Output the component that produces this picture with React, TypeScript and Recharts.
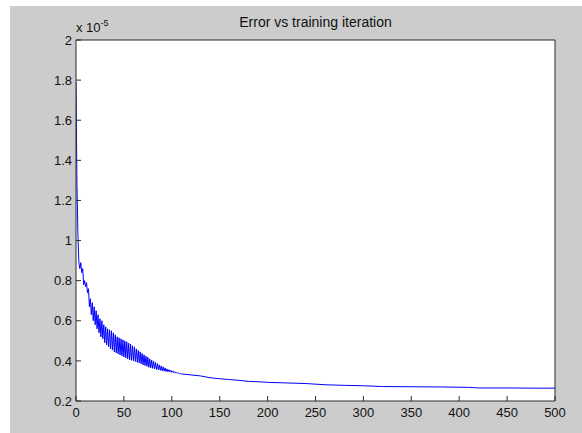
import React from 'react';
import { LineChart, Line, XAxis, YAxis, CartesianGrid } from 'recharts';

const chartTitle = 'Error vs training iteration';
const xTicks = [0, 50, 100, 150, 200, 250, 300, 350, 400, 450, 500];
const yTicks = [0.2, 0.4, 0.6, 0.8, 1, 1.2, 1.4, 1.6, 1.8, 2];

const iterations = [
  0, 1, 2, 3, 4, 5, 6, 7, 8, 9,
  10, 11, 12, 13, 14, 15, 16, 17, 18, 19,
  20, 21, 22, 23, 24, 25, 26, 27, 28, 29,
  30, 31, 32, 33, 34, 35, 36, 37, 38, 39,
  40, 41, 42, 43, 44, 45, 46, 47, 48, 49,
  50, 51, 52, 53, 54, 55, 56, 57, 58, 59,
  60, 61, 62, 63, 64, 65, 66, 67, 68, 69,
  70, 71, 72, 73, 74, 75, 76, 77, 78, 79,
  80, 81, 82, 83, 84, 85, 86, 87, 88, 89,
  90, 91, 92, 93, 94, 95, 96, 97, 98, 99,
  100, 101, 102, 103, 104, 105, 106, 107, 108, 109,
  110, 120, 130, 140, 150, 160, 170, 180, 190, 200,
  220, 240, 260, 280, 300, 320, 350, 380, 410, 420,
  450, 480, 500,
];

// error values in units of 1e-5
const errors = [
  1.79, 1.28, 1.03, 0.89, 0.86, 0.89, 0.84, 0.86, 0.78, 0.8,
  0.77, 0.79, 0.74, 0.76, 0.67, 0.71, 0.63, 0.69, 0.6, 0.67,
  0.58, 0.65, 0.56, 0.63, 0.54, 0.61, 0.52, 0.6, 0.51, 0.58,
  0.49, 0.57, 0.48, 0.56, 0.47, 0.555, 0.46, 0.55, 0.455, 0.54,
  0.445, 0.53, 0.44, 0.52, 0.435, 0.515, 0.43, 0.51, 0.425, 0.505,
  0.42, 0.5, 0.415, 0.495, 0.41, 0.488, 0.405, 0.483, 0.403, 0.475,
  0.4, 0.47, 0.397, 0.46, 0.393, 0.452, 0.39, 0.445, 0.386, 0.437,
  0.38, 0.43, 0.377, 0.424, 0.373, 0.418, 0.368, 0.41, 0.365, 0.404,
  0.363, 0.398, 0.36, 0.392, 0.357, 0.386, 0.355, 0.38, 0.353, 0.375,
  0.35, 0.37, 0.349, 0.365, 0.347, 0.36, 0.346, 0.356, 0.345, 0.353,
  0.343, 0.35, 0.341, 0.346, 0.34, 0.343, 0.338, 0.34, 0.336, 0.337,
  0.335, 0.33, 0.325, 0.316, 0.311, 0.307, 0.303, 0.298, 0.296, 0.293,
  0.29, 0.287, 0.281, 0.278, 0.276, 0.272, 0.271, 0.27, 0.268, 0.265,
  0.265, 0.264, 0.264,
];

const data = iterations.map((it, i) => ({ it, err: errors[i] }));

const FONT = '"Liberation Sans", Arial, Helvetica, sans-serif';
const AXIS = '#2b2b2b';
const TEXT = '#111111';

export default function App() {
  return (
    <div
      style={{
        position: 'absolute',
        left: 0,
        top: 0,
        width: 582,
        height: 433,
        background: '#ffffff',
        fontFamily: FONT,
        overflow: 'hidden',
      }}
    >
      <div
        style={{
          position: 'absolute',
          left: 10,
          top: 6,
          right: 0,
          bottom: 0,
          background: '#cccccc',
        }}
      />
      <div style={{ position: 'absolute', left: 0, top: 0 }}>
        <LineChart
          width={582}
          height={433}
          data={data}
          margin={{ top: 39, right: 26, bottom: 2, left: 36 }}
        >
          <CartesianGrid
            xAxisId="b"
            yAxisId="l"
            fill="#ffffff"
            fillOpacity={1}
            horizontal={false}
            vertical={false}
          />
          <XAxis
            xAxisId="b"
            dataKey="it"
            type="number"
            domain={[0, 500]}
            ticks={xTicks}
            interval={0}
            allowDataOverflow
            height={30}
            tickSize={-5}
            tickMargin={12}
            axisLine={{ stroke: AXIS }}
            tickLine={{ stroke: AXIS }}
            tick={{ fill: TEXT, fontSize: 13, fontFamily: FONT }}
          />
          <XAxis
            xAxisId="t"
            dataKey="it"
            type="number"
            orientation="top"
            domain={[0, 500]}
            ticks={xTicks}
            interval={0}
            allowDataOverflow
            height={1}
            tickSize={-5}
            axisLine={{ stroke: AXIS }}
            tickLine={{ stroke: AXIS }}
            tick={false}
          />
          <YAxis
            yAxisId="l"
            type="number"
            domain={[0.2, 2]}
            ticks={yTicks}
            interval={0}
            allowDataOverflow
            width={40}
            tickSize={-5}
            tickMargin={9}
            axisLine={{ stroke: AXIS }}
            tickLine={{ stroke: AXIS }}
            tick={{ fill: TEXT, fontSize: 13, fontFamily: FONT }}
          />
          <YAxis
            yAxisId="r"
            type="number"
            orientation="right"
            domain={[0.2, 2]}
            ticks={yTicks}
            interval={0}
            allowDataOverflow
            width={1}
            tickSize={-5}
            axisLine={{ stroke: AXIS }}
            tickLine={{ stroke: AXIS }}
            tick={false}
          />
          <Line
            xAxisId="b"
            yAxisId="l"
            type="linear"
            dataKey="err"
            stroke="#0000ff"
            strokeWidth={1}
            dot={false}
            activeDot={false}
            isAnimationActive={false}
          />
        </LineChart>
      </div>
      <div
        style={{
          position: 'absolute',
          left: 76,
          width: 479,
          top: 14,
          textAlign: 'center',
          fontSize: 14,
          lineHeight: '16px',
          color: TEXT,
          whiteSpace: 'nowrap',
        }}
      >
        {chartTitle}
      </div>
      <div
        style={{
          position: 'absolute',
          left: 76,
          top: 20,
          fontSize: 13,
          lineHeight: '15px',
          color: TEXT,
          whiteSpace: 'nowrap',
        }}
      >
        x 10<sup style={{ fontSize: 9, verticalAlign: 'top', position: 'relative', top: -4 }}>-5</sup>
      </div>
    </div>
  );
}
